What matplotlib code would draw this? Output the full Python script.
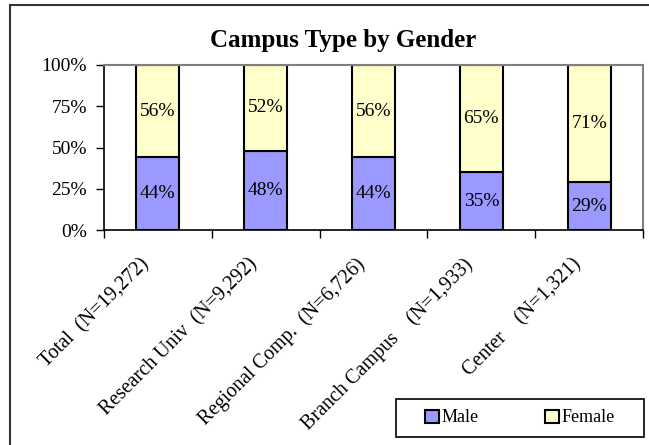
import matplotlib
matplotlib.use('Agg')
import matplotlib.pyplot as plt
import matplotlib.transforms as mtransforms
from matplotlib.patches import Rectangle

# Dados
categories = ['Total  (N=19,272)', 'Research Univ  (N=9,292)',
              'Regional Comp.  (N=6,726)', 'Branch Campus    (N=1,933)',
              'Center    (N=1,321)']
male = [44, 48, 44, 35, 29]
female = [56, 52, 56, 65, 71]

plt.rcParams['font.family'] = ['Liberation Serif', 'DejaVu Serif']

fig = plt.figure(figsize=(6.49, 4.45), dpi=100)
ax = fig.add_axes([0.160, 0.483, 0.831, 0.371])

# borda externa do gráfico (só esquerda e topo aparecem)
fig.patches.append(Rectangle((10 / 649, -0.05), 1.2, 1 - 5 / 445 + 0.05,
                             transform=fig.transFigure, fill=False,
                             edgecolor='#333333', linewidth=1.5))

x = list(range(len(categories)))
b1 = ax.bar(x, male, width=0.4, color='#9999FF', edgecolor='black',
            linewidth=1.5, label='Male')
b2 = ax.bar(x, female, width=0.4, bottom=male, color='#FFFFCC',
            edgecolor='black', linewidth=1.5, label='Female')

for rect, v in zip(b1, male):
    ax.text(rect.get_x() + rect.get_width() / 2, v / 2, f'{v}%',
            ha='center', va='center', fontsize=14)
for rect, m, v in zip(b2, male, female):
    ax.text(rect.get_x() + rect.get_width() / 2, m + v / 2, f'{v}%',
            ha='center', va='center', fontsize=14)

ax.set_xlim(-0.5, len(categories) - 0.5)
ax.set_ylim(0, 100)
ax.set_yticks([0, 25, 50, 75, 100])
ax.set_yticklabels(['0%', '25%', '50%', '75%', '100%'], fontsize=14)
ax.set_xticks([i - 0.5 for i in range(len(categories) + 1)])
ax.set_xticklabels([])
ax.set_xticks(x, minor=True)
ax.set_xticklabels(categories, minor=True, rotation=45, ha='right',
                   rotation_mode='anchor', fontsize=14.5)
ax.tick_params(axis='x', which='minor', length=0, pad=18)
ax.tick_params(axis='both', which='major', direction='out', length=6,
               width=1, color='black')
ax.tick_params(axis='y', pad=6)

# desloca os rótulos um pouco para a esquerda
offset = mtransforms.ScaledTranslation(-18 / 100, 0, fig.dpi_scale_trans)
for lbl in ax.get_xticklabels(minor=True):
    lbl.set_transform(lbl.get_transform() + offset)

ax.spines['left'].set_linewidth(1.2)
ax.spines['bottom'].set_linewidth(1.2)
ax.spines['top'].set_color('#808080')
ax.spines['right'].set_color('#808080')
ax.spines['top'].set_linewidth(1.5)
ax.spines['right'].set_linewidth(1.5)

fig.text(343 / 649, 1 - 41 / 445, 'Campus Type by Gender', ha='center',
         va='center', fontsize=18, fontweight='bold')

# caixa da legenda
box = (396 / 649, 1 - 437 / 445, 248 / 649, 38 / 445)
fig.patches.append(Rectangle(box[:2], box[2], box[3],
                             transform=fig.transFigure, fill=True,
                             facecolor='white', edgecolor='black',
                             linewidth=1.2, zorder=5))
leg = fig.legend(handles=[b1, b2], labels=['Male', 'Female'], ncol=2,
                 loc='center', bbox_to_anchor=box, frameon=False,
                 fontsize=13, handlelength=0.75, handleheight=0.75,
                 handletextpad=0.15, columnspacing=3.7, borderaxespad=0)
leg.set_zorder(6)

fig.savefig('out.png', dpi=100)
